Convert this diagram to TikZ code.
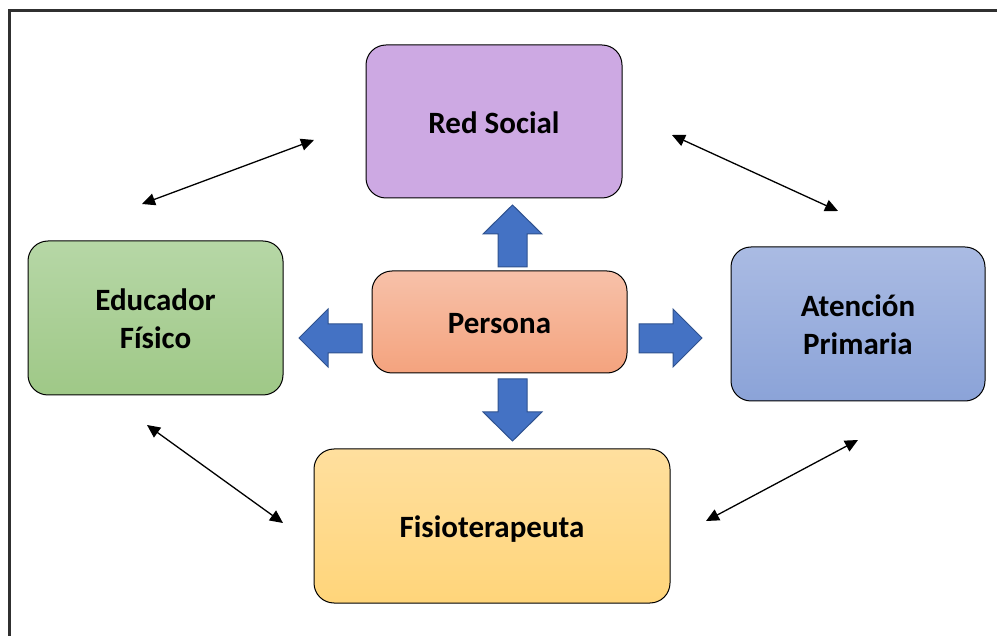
\documentclass[tikz,border=0pt]{standalone}
\usepackage{fontspec}
\setmainfont{Carlito}
\usetikzlibrary{arrows.meta}
\definecolor{framec}{HTML}{303030}
\definecolor{blockfill}{HTML}{4472C4}
\definecolor{blockdraw}{HTML}{2F528F}
\definecolor{purp}{RGB}{205,169,227}
\definecolor{greenT}{RGB}{182,215,166}
\definecolor{greenB}{RGB}{159,200,135}
\definecolor{oranT}{RGB}{247,193,169}
\definecolor{oranB}{RGB}{244,163,126}
\definecolor{blueT}{RGB}{170,187,227}
\definecolor{blueB}{RGB}{139,163,216}
\definecolor{yellT}{RGB}{255,223,158}
\definecolor{yellB}{RGB}{255,213,122}
\newcommand{\boxtext}[2][8pt]{\raisebox{0pt}[\dimexpr\height+#1\relax][\depth]{\begin{tabular}{@{}c@{}}#2\end{tabular}}}
\tikzset{
  box/.style={draw=black, line width=1pt, rounded corners=20pt, align=center,
    font=\fontsize{31}{38}\selectfont\bfseries, text=black, inner sep=0pt},
  blockarrow/.style={fill=blockfill, draw=blockdraw, line width=1pt},
  link/.style={line width=1.3pt, {Triangle[length=13pt,width=12pt]}-{Triangle[length=13pt,width=12pt]}}
}
\begin{document}
\begin{tikzpicture}[x=1pt,y=-1pt]
\useasboundingbox (0,0) rectangle (997,636);
\draw[framec, line width=3pt] (9,11) rectangle (1020,660);

\node[box, fill=purp, minimum width=256pt, minimum height=153pt] (red) at (494,121.5) {\boxtext{Red Social}};
\node[box, top color=greenT, bottom color=greenB, minimum width=255pt, minimum height=154pt] (edu) at (155.5,318) {\boxtext{Educador\\Físico}};
\node[box, top color=oranT, bottom color=oranB, minimum width=255pt, minimum height=102pt] (per) at (499.5,322) {\boxtext{Persona}};
\node[box, top color=blueT, bottom color=blueB, minimum width=254pt, minimum height=154pt] (ate) at (858,324) {\boxtext{Atención\\Primaria}};
\node[box, top color=yellT, bottom color=yellB, minimum width=356pt, minimum height=154pt] (fis) at (492,526) {\boxtext{Fisioterapeuta}};

% block arrows
\draw[blockarrow] (498,267) -- (498,234) -- (483,234) -- (512.5,205) -- (542,234) -- (527,234) -- (527,267) -- cycle;
\draw[blockarrow] (498,379) -- (498,412) -- (483,412) -- (512.5,441) -- (542,412) -- (527,412) -- (527,379) -- cycle;
\draw[blockarrow] (362,324) -- (328,324) -- (328,309) -- (299,338) -- (328,367) -- (328,353) -- (362,353) -- cycle;
\draw[blockarrow] (639,324) -- (673,324) -- (673,309) -- (702,338) -- (673,367) -- (673,353) -- (639,353) -- cycle;

% double arrows
\coordinate (a1) at (142,204);
\coordinate (a2) at (314,140);
\coordinate (b1) at (672,135);
\coordinate (b2) at (838,211);
\coordinate (c1) at (147,425);
\coordinate (c2) at (283,523);
\coordinate (d1) at (706,521);
\coordinate (d2) at (858,440);
\draw[link] (a1) -- (a2);
\draw[link] (b1) -- (b2);
\draw[link] (c1) -- (c2);
\draw[link] (d1) -- (d2);
\end{tikzpicture}
\end{document}
